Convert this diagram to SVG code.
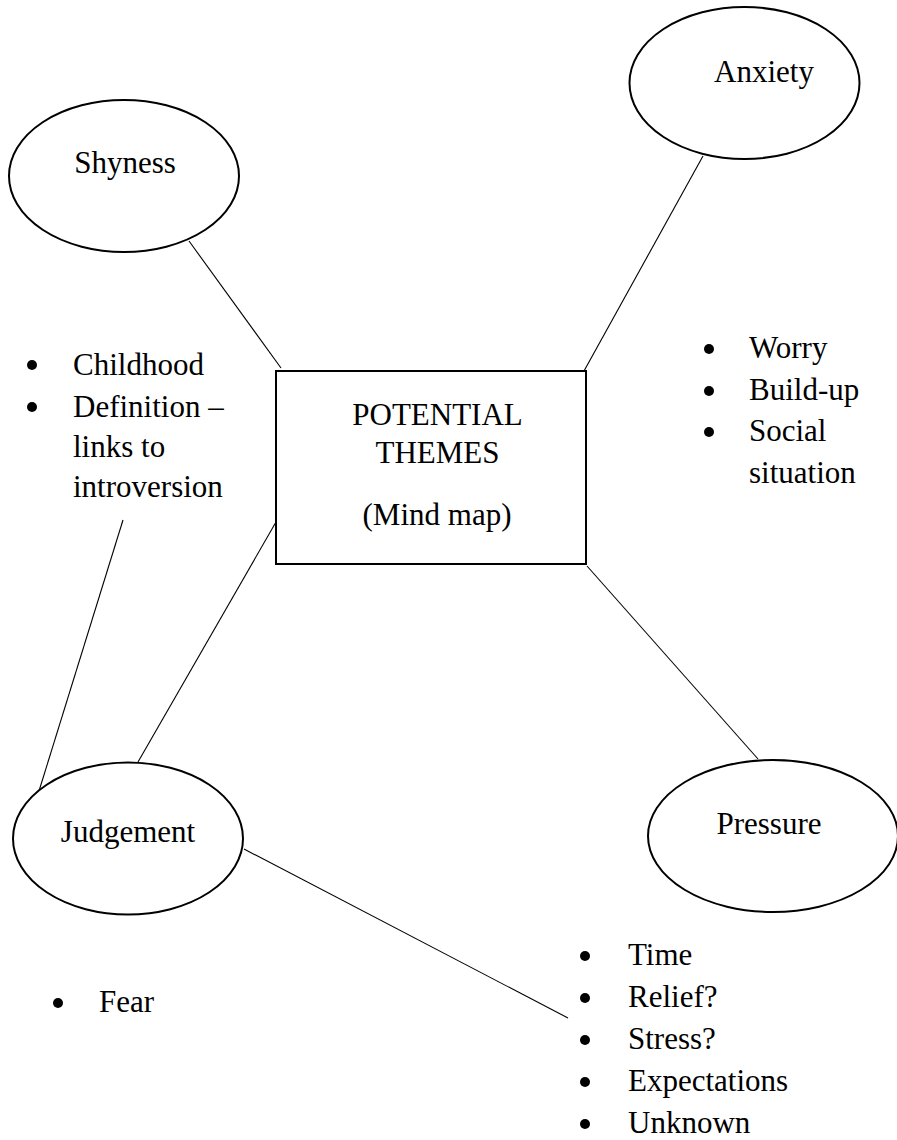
<svg xmlns="http://www.w3.org/2000/svg" width="897" height="1140" viewBox="0 0 897 1140">
<style>
.node{fill:#fff;stroke:#000;stroke-width:2}
.conn{stroke:#000;stroke-width:1.1;fill:none}
.t{font-family:"Liberation Serif","Times New Roman",serif;font-size:31px;fill:#000}
.c{text-anchor:middle}
.b{fill:#000}
</style>
<rect width="897" height="1140" fill="#fff"/>
<g id="connectors">
<line class="conn" x1="189" y1="241" x2="281" y2="368"/>
<line class="conn" x1="703" y1="156" x2="584" y2="371"/>
<line class="conn" x1="276" y1="522" x2="138" y2="762"/>
<line class="conn" x1="123" y1="520" x2="39" y2="791"/>
<line class="conn" x1="587" y1="566" x2="758" y2="759"/>
<line class="conn" x1="244" y1="849" x2="568" y2="1018"/>
</g>
<g id="shyness">
<ellipse class="node" cx="124" cy="176" rx="115" ry="76"/>
<text class="t c" x="125" y="173">Shyness</text>
</g>
<g id="anxiety">
<ellipse class="node" cx="744.5" cy="83" rx="115" ry="76"/>
<text class="t c" x="764" y="82">Anxiety</text>
</g>
<g id="center">
<rect class="node" x="276" y="371" width="310" height="193"/>
<text class="t c" x="437.5" y="425">POTENTIAL</text>
<text class="t c" x="437.5" y="463">THEMES</text>
<text class="t c" x="437" y="525">(Mind map)</text>
</g>
<g id="judgement">
<ellipse class="node" cx="128" cy="838.5" rx="115" ry="76"/>
<text class="t c" x="128" y="842">Judgement</text>
</g>
<g id="pressure">
<ellipse class="node" cx="773" cy="836" rx="125" ry="76"/>
<text class="t c" x="769" y="834">Pressure</text>
</g>
<g id="shyness-notes">
<circle class="b" cx="32" cy="365" r="5"/>
<text class="t" x="73" y="375">Childhood</text>
<circle class="b" cx="32" cy="407" r="5"/>
<text class="t" x="73" y="417">Definition –</text>
<text class="t" x="73" y="457">links to</text>
<text class="t" x="73" y="497">introversion</text>
</g>
<g id="anxiety-notes">
<circle class="b" cx="709" cy="349" r="5"/>
<text class="t" x="749" y="358">Worry</text>
<circle class="b" cx="709" cy="391" r="5"/>
<text class="t" x="749" y="400">Build-up</text>
<circle class="b" cx="709" cy="432" r="5"/>
<text class="t" x="749" y="441">Social</text>
<text class="t" x="749" y="483">situation</text>
</g>
<g id="judgement-notes">
<circle class="b" cx="58" cy="1003" r="5"/>
<text class="t" x="99" y="1012">Fear</text>
</g>
<g id="pressure-notes">
<circle class="b" cx="585" cy="956" r="5"/>
<text class="t" x="628" y="965">Time</text>
<circle class="b" cx="585" cy="998" r="5"/>
<text class="t" x="628" y="1007">Relief?</text>
<circle class="b" cx="585" cy="1040" r="5"/>
<text class="t" x="628" y="1049">Stress?</text>
<circle class="b" cx="585" cy="1082" r="5"/>
<text class="t" x="628" y="1091">Expectations</text>
<circle class="b" cx="585" cy="1124" r="5"/>
<text class="t" x="628" y="1133">Unknown</text>
</g>
</svg>
